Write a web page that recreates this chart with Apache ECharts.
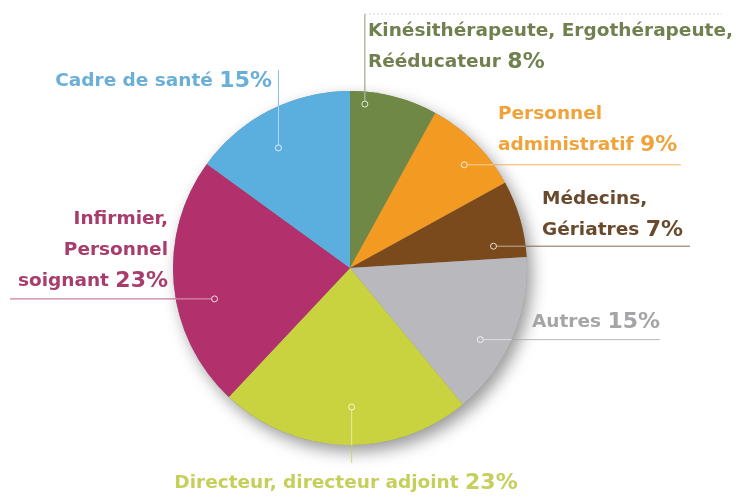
<!DOCTYPE html>
<html><head><meta charset="utf-8">
<script src="https://cdn.jsdelivr.net/npm/echarts@6/dist/echarts.min.js"></script>
<style>html,body{margin:0;padding:0;background:#fff}#c{width:738px;height:500px}</style>
</head><body><div id="c"></div>
<script>
const categories = ['Kinésithérapeute, Ergothérapeute,\nRééducateur', 'Personnel\nadministratif', 'Médecins,\nGériatres', 'Autres', 'Directeur, directeur adjoint', 'Infirmier,\nPersonnel\nsoignant', 'Cadre de santé'];
const shares = [8, 9, 7, 15, 23, 23, 15];
const percentLabels = ['8%', '9%', '7%', '15%', '23%', '23%', '15%'];

const sliceColors = ['#6f8846', '#f29a21', '#7b4a1c', '#b9b9bd', '#c9d33f', '#b2306b', '#5bafdf'];
const textColors = ['#71804f', '#f0a33a', '#6a4a2c', '#a5a5a8', '#c5cf5c', '#a83c6c', '#6aafd8'];

// label placement (annotation layout)
const labelPos = [
  {x: 368, y: 16, align: 'left', va: 'top'},
  {x: 498, y: 161, align: 'left', va: 'bottom'},
  {x: 542, y: 246, align: 'left', va: 'bottom'},
  {x: 532, y: 338, align: 'left', va: 'bottom'},
  {x: 346, y: 499, align: 'center', va: 'bottom'},
  {x: 168, y: 297, align: 'right', va: 'bottom'},
  {x: 272, y: 97, align: 'right', va: 'bottom'}
];
// guide line anchors: t = fraction along slice, k = fraction of radius
const guides = [
  {t: 0.18, k: 0.93, dir: 'v', to: 14},
  {t: 0.59, k: 0.87, dir: 'h', to: 681},
  {t: 0.80, k: 0.82, dir: 'h', to: 690},
  {t: 0.60, k: 0.84, dir: 'h', to: 660},
  {t: 0.47, k: 0.785, dir: 'v', to: 463},
  {t: 0.41, k: 0.785, dir: 'h', to: 10},
  {t: 0.43, k: 0.79, dir: 'v', to: 70}
];

function fmt(i) {
  const lines = categories[i].split('\n');
  return lines.map((l, j) => j === lines.length - 1 ? '{n|' + l + ' }{p|' + percentLabels[i] + '}' : '{n|' + l + '}').join('\n');
}

const chart = echarts.init(document.getElementById('c'), null, {renderer: 'canvas'});
const R = 177, C = [350, 268];
chart.setOption({
  animation: false,
  backgroundColor: '#fff',
  series: [
    {
      type: 'pie', radius: R, center: C, silent: true, z: 1,
      label: {show: false}, labelLine: {show: false},
      data: [{value: 1, itemStyle: {color: '#8a8a8a', shadowBlur: 16, shadowColor: 'rgba(0,0,0,0.4)', shadowOffsetX: 5, shadowOffsetY: 7}}]
    },
    {
      type: 'pie', radius: R, center: C, startAngle: 90, clockwise: true, z: 2,
      avoidLabelOverlap: false,
      data: categories.map((c, i) => ({name: c, value: shares[i], itemStyle: {color: sliceColors[i]},
        label: {color: textColors[i], rich: {
          n: {fontFamily: 'DejaVu Sans', fontSize: 18.5, fontWeight: 'bold', color: textColors[i], lineHeight: 31},
          p: {fontFamily: 'DejaVu Sans', fontSize: 22, fontWeight: 'bold', color: textColors[i], lineHeight: 31}
        }}})),
      label: {show: true, position: 'outside', formatter: p => fmt(p.dataIndex)},
      labelLine: {show: false},
      labelLayout: p => ({x: labelPos[p.dataIndex].x, y: labelPos[p.dataIndex].y, align: labelPos[p.dataIndex].align, verticalAlign: labelPos[p.dataIndex].va}),
      itemStyle: {borderWidth: 0}
    }
  ]
});

const sd = chart.getModel().getSeriesByIndex(1).getData();
const g = [];
guides.forEach((gd, i) => {
  const L = sd.getItemLayout(i);
  const a = L.startAngle + gd.t * (L.endAngle - L.startAngle);
  const px = L.cx + L.r * gd.k * Math.cos(a), py = L.cy + L.r * gd.k * Math.sin(a);
  const ex = gd.dir === 'h' ? gd.to : px, ey = gd.dir === 'h' ? py : gd.to;
  // find where the guide leaves the pie
  const dx = ex - px, dy = ey - py, fx = px - L.cx, fy = py - L.cy;
  const A = dx * dx + dy * dy, B = 2 * (fx * dx + fy * dy), Cc = fx * fx + fy * fy - L.r * L.r;
  const s = (-B + Math.sqrt(B * B - 4 * A * Cc)) / (2 * A);
  const bx = px + s * dx, by = py + s * dy;
  g.push({type: 'line', z: 10, shape: {x1: px, y1: py, x2: bx, y2: by}, style: {stroke: 'rgba(255,255,255,0.55)', lineWidth: 1}});
  g.push({type: 'line', z: 10, shape: {x1: bx, y1: by, x2: ex, y2: ey}, style: {stroke: textColors[i], lineWidth: 1, opacity: 0.8}});
  g.push({type: 'circle', z: 11, shape: {cx: px, cy: py, r: 3}, style: {fill: sliceColors[i], stroke: 'rgba(255,255,255,0.8)', lineWidth: 1}});
  if (i === 0) g.push({type: 'line', z: 10, shape: {x1: px, y1: gd.to, x2: 722, y2: gd.to}, style: {stroke: '#d4d4d4', lineWidth: 1, lineDash: [2, 2]}});
});
chart.setOption({graphic: g});
</script></body></html>
